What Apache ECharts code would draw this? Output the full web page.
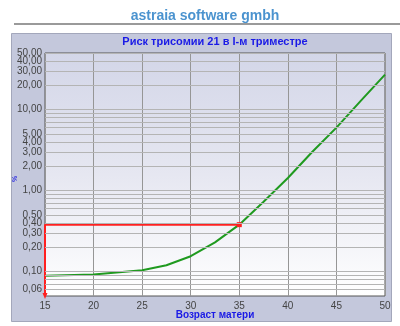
<!DOCTYPE html>
<html><head><meta charset="utf-8">
<script src="https://cdn.jsdelivr.net/npm/echarts@6/dist/echarts.min.js"></script>
<style>html,body{margin:0;padding:0;background:#fff}#c{width:400px;height:326px}</style>
</head><body><div id="c"></div>
<script>
const ages = [15, 20, 25, 27.5, 30, 32.5, 35, 37.5, 40, 42.5, 45, 47.5, 50];
const risk = [0.089, 0.092, 0.104, 0.12, 0.155, 0.23, 0.38, 0.73, 1.43, 3.0, 6.0, 12.8, 27];
const markerAge = 35;
const markerRisk = 0.38;
const yGridValues = [0.06,0.07,0.08,0.09,0.1,0.2,0.3,0.4,0.5,0.6,0.7,0.8,0.9,1,2,3,4,5,6,7,8,9,10,20,30,40,50];
const yTickLabels = [0.06,0.1,0.2,0.3,0.4,0.5,1,2,3,4,5,10,20,30,40,50];
const xTicks = [15,20,25,30,35,40,45,50];
const pageTitle = 'astraia software gmbh';
const chartTitle = 'Риск трисомии 21 в I-м триместре';
const xName = 'Возраст матери';

const fmt = v => v.toFixed(2).replace('.', ',');
const chart = echarts.init(document.getElementById('c'));
const FONT = '"Liberation Sans", Arial, sans-serif';

const gridLines = yGridValues.map(v => ({
  yAxis: v,
  label: {show: yTickLabels.includes(v), formatter: fmt(v)}
}));

chart.setOption({
  animation: false,
  textStyle: {fontFamily: FONT},
  graphic: [
    {type: 'text', x: 205, y: 9, style: {text: pageTitle, fill: '#4b93cf', font: 'bold 14px ' + FONT, align: 'center'}},
    {type: 'rect', shape: {x: 14, y: 23, width: 386, height: 2}, style: {fill: '#9a9a9a'}},
    {type: 'rect', z: -10, shape: {x: 11.5, y: 33.5, width: 380, height: 288}, style: {fill: '#c4c8dc', stroke: '#a3a7bb', lineWidth: 1}},
    {type: 'text', x: 215, y: 36, style: {text: chartTitle, fill: '#1a1ae6', font: 'bold 11px ' + FONT, align: 'center'}},
    {type: 'text', x: 215, y: 310, style: {text: xName, fill: '#1a1ae6', font: 'bold 10px ' + FONT, align: 'center'}},
    {type: 'text', x: 12, y: 182, rotation: Math.PI / 2, style: {text: '%', fill: '#3030e0', font: 'bold 7px ' + FONT}}
  ],
  grid: {
    left: 45, right: 15, top: 53, bottom: 30,
    show: true, borderColor: '#555', borderWidth: 1,
    backgroundColor: {type: 'linear', x: 0, y: 0, x2: 0, y2: 1, colorStops: [
      {offset: 0, color: '#d3d6e8'}, {offset: 0.5, color: '#e6e7f1'}, {offset: 1, color: '#ffffff'}
    ]}
  },
  xAxis: {
    type: 'value', min: 15, max: 50, interval: 5,
    axisLine: {show: false}, axisTick: {show: false},
    axisLabel: {color: '#444', fontSize: 10, margin: 5},
    splitLine: {show: true, lineStyle: {color: '#969696', width: 1}}
  },
  yAxis: {
    type: 'log', logBase: 10, min: 0.05, max: 50,
    axisLine: {show: false}, axisTick: {show: false},
    axisLabel: {show: false}, splitLine: {show: false}
  },
  series: [
    {
      type: 'line', data: ages.map((a, i) => [a, risk[i]]),
      symbol: 'none', lineStyle: {color: '#1f9a1f', width: 2}, z: 3,
      markLine: {
        silent: true, symbol: 'none', animation: false,
        lineStyle: {color: '#b4b4b4', width: 1, type: 'solid'},
        label: {position: 'start', color: '#444', fontSize: 10, distance: 3},
        data: gridLines
      }
    },
    {
      type: 'line', z: 4,
      data: [
        {value: [ages[0], 0.05], symbol: 'triangle', symbolSize: [5, 6], symbolRotate: 180},
        {value: [ages[0], markerRisk], symbol: 'none'},
        {value: [markerAge, markerRisk], symbol: 'rect', symbolSize: 5}
      ],
      showAllSymbol: true,
      lineStyle: {color: '#ff2020', width: 2},
      itemStyle: {color: '#ff2020'}
    }
  ]
});
</script></body></html>
